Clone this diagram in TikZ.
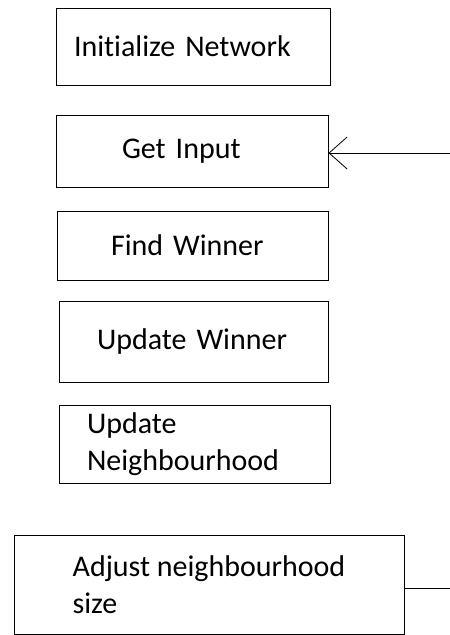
\documentclass[tikz,border=0pt]{standalone}
\usepackage{fontspec}
\setmainfont{Carlito}[Ligatures=NoCommon]
\usetikzlibrary{arrows.meta}
\begin{document}
\begin{tikzpicture}[x=1pt, y=-1pt, line width=1pt,
  stage/.style = {draw, rectangle, align=left, inner ysep=0pt,
    font=\fontsize{30}{37}\selectfont}]
  \useasboundingbox (0,0) rectangle (450,635);
  \node[stage, text width=238pt, inner xsep=18pt, minimum height=77pt] (init) at (193, 46.5) {Initialize Network};
  \node[stage, text width=140pt, inner xsep=66pt, minimum height=72pt] (get) at (192, 151) {Get Input};
  \node[stage, text width=163pt, inner xsep=54pt, minimum height=69pt] (find) at (192.5, 245.5) {Find Winner};
  \node[stage, text width=193pt, inner xsep=38pt, minimum height=81pt] (winner) at (193.5, 341.5) {Update Winner};
  \node[stage, text width=215pt, inner xsep=28pt, minimum height=78pt] (neigh) at (194.5, 444) {Update\\Neighbourhood};
  \node[stage, minimum width=390pt, minimum height=99pt] (adjust) at (209, 584.5) {Adjust neighbourhood\\size};
  \coordinate (in) at (450, 153);
  \coordinate (out) at (450, 588);
  \draw[-{Straight Barb[length=18pt, width=32pt]}, line width=0.8pt] (in) -- (get.east |- in);
  \draw[line width=0.8pt] (adjust.east |- out) -- (out);
\end{tikzpicture}
\end{document}
